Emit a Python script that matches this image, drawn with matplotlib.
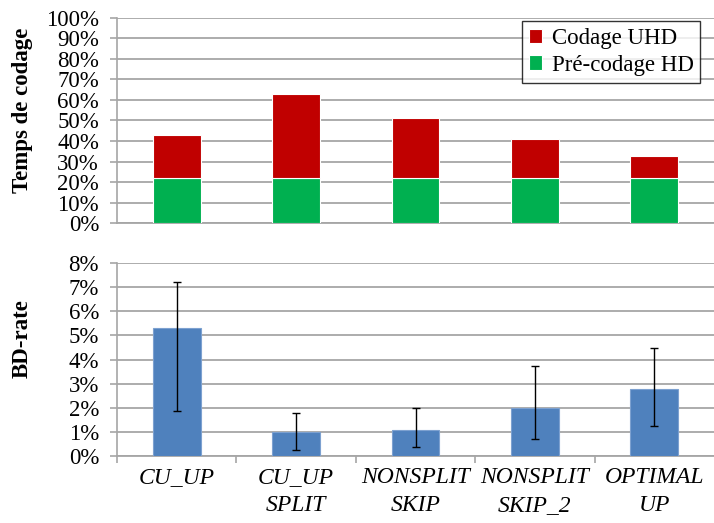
import matplotlib.pyplot as plt
from matplotlib.ticker import PercentFormatter

plt.rcParams['font.family'] = ['Liberation Serif', 'DejaVu Serif']

# data
categories = ['CU_UP', 'CU_UP\nSPLIT', 'NONSPLIT\nSKIP', 'NONSPLIT\nSKIP_2', 'OPTIMAL\nUP']
precodage_hd = [22, 22, 22, 22, 22]
total_time = [43, 63, 51, 41, 32.5]
bd_rate = [5.3, 1.0, 1.1, 2.0, 2.78]
bd_low = [1.87, 0.25, 0.37, 0.72, 1.25]
bd_high = [7.2, 1.77, 1.98, 3.73, 4.48]

codage_uhd = [t - p for t, p in zip(total_time, precodage_hd)]
x = list(range(len(categories)))

fig = plt.figure(figsize=(7.14, 5.23), dpi=100)
ax1 = fig.add_axes([0.164, 0.5736, 0.836, 0.392])
ax2 = fig.add_axes([0.164, 0.128, 0.836, 0.369])

grid_col = '#a6a6a6'
fs = 16.5

# top: stacked bars
ax1.bar(x, precodage_hd, width=0.4, color='#00b050', edgecolor='white', linewidth=0.8,
        label='Pré-codage HD', zorder=3)
ax1.bar(x, codage_uhd, width=0.4, bottom=precodage_hd, color='#c00000',
        edgecolor='white', linewidth=0.8, label='Codage UHD', zorder=3)
ax1.set_ylim(0, 100)
ax1.set_xlim(-0.5, len(categories) - 0.5)
ax1.set_yticks(range(0, 101, 10))
ax1.yaxis.set_major_formatter(PercentFormatter(decimals=0))
ax1.set_xticks([])
ax1.set_ylabel('Temps de codage', fontsize=fs, fontweight='bold')
ax1.yaxis.set_label_coords(-0.141, 0.55)
handles, labels = ax1.get_legend_handles_labels()
leg = ax1.legend(handles[::-1], labels[::-1], loc='upper right', fontsize=fs,
                 frameon=True, fancybox=False, edgecolor='black', handlelength=0.6,
                 handleheight=0.6, handletextpad=0.4, borderpad=0.3,
                 bbox_to_anchor=(0.977, 0.985), borderaxespad=0, labelspacing=0.25)
leg.get_frame().set_linewidth(1.0)

# bottom: BD-rate with error bars
err = [[b - lo for b, lo in zip(bd_rate, bd_low)],
       [hi - b for b, hi in zip(bd_rate, bd_high)]]
ax2.bar(x, bd_rate, width=0.4, color='#4f81bd', edgecolor='#7da1d0', linewidth=0.8,
        zorder=3)
ax2.errorbar(x, bd_rate, yerr=err, fmt='none', ecolor='black', elinewidth=1,
             capsize=3, capthick=1, zorder=4)
ax2.set_ylim(0, 8)
ax2.set_xlim(-0.5, len(categories) - 0.5)
ax2.set_yticks(range(0, 9))
ax2.yaxis.set_major_formatter(PercentFormatter(decimals=0))
ax2.set_xticks(x)
ax2.set_xticklabels(categories, fontsize=17, style='italic', linespacing=1.4)
ax2.set_xticks([i + 0.5 for i in range(-1, len(categories) - 1)], minor=True)
ax2.tick_params(axis='x', which='major', length=0, pad=8)
ax2.tick_params(axis='x', which='minor', length=5, color=grid_col, width=1.2)
ax2.set_ylabel('BD-rate', fontsize=fs, fontweight='bold')
ax2.yaxis.set_label_coords(-0.141, 0.61)

for ax in (ax1, ax2):
    ax.grid(axis='y', color=grid_col, linewidth=1.3, zorder=0)
    ax.set_axisbelow(True)
    for s in ('top', 'right'):
        ax.spines[s].set_visible(False)
    ax.spines['left'].set_color(grid_col)
    ax.spines['bottom'].set_color(grid_col)
    ax.spines['left'].set_linewidth(1.2)
    ax.spines['bottom'].set_linewidth(1.3)
    ax.tick_params(axis='y', labelsize=fs, length=5, color=grid_col, width=1.2, pad=8)

fig.savefig('out.png', dpi=100)
